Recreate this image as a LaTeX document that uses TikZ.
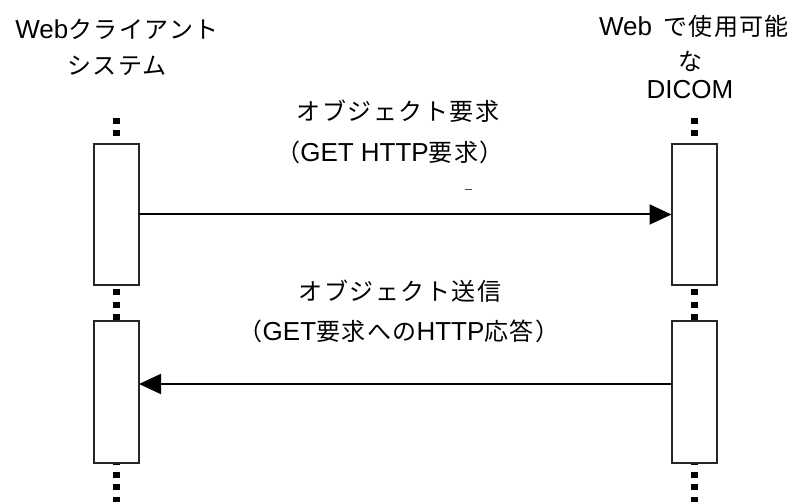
\documentclass[tikz,border=0pt]{standalone}
\usepackage{fontspec}
\setmainfont{Liberation Sans}
\newfontfamily\cjk[LetterSpace=6]{Noto Sans CJK JP}
\newcommand\jp[1]{{\fontsize{24}{28}\cjk #1}}
\usetikzlibrary{arrows.meta}
\tikzset{
  lifebox/.style={draw=black!85, line width=2pt, fill=white, minimum width=45pt, inner sep=0pt, outer sep=0pt},
  lifedash/.style={line width=7pt, dash pattern=on 6pt off 6.5pt},
  msg/.style={line width=2pt, -{Triangle[length=22pt,width=20pt]}},
  txt/.style={inner sep=0pt, font=\fontsize{26}{30}\selectfont},
}
\begin{document}
\begin{tikzpicture}[x=1pt,y=-1pt]
\useasboundingbox (0,0) rectangle (798,502);
% header labels
\node[txt] (lh1) at (117,29) {Web\jp{クライアント}};
\node[txt] (lh2) at (117,66) {\jp{システム}};
\node[txt] (rh1) at (694,26) {Web\hspace{11pt}\jp{で使用可能}};
\node[txt] (rh2) at (690,61) {\jp{な}};
\node[txt] (rh3) at (690,90) {DICOM};
% message labels
\node[txt] (m1a) at (398,111) {\jp{オブジェクト要求}};
\node[txt] (m1b) at (390,152) {\jp{（}GET HTTP\jp{要求）}};
\node[txt] (m2a) at (400,291) {\jp{オブジェクト送信}};
\node[txt] (m2b) at (399,331) {\jp{（}GET\jp{要求への}HTTP\jp{応答）}};
% lifeline coordinates
\coordinate (ltop) at (116.5,118);
\coordinate (lbot) at (116.5,502);
\coordinate (rtop) at (694,118);
\coordinate (rbot) at (694,502);
% activation box positions
\path (116.5,214.5) node[minimum height=141pt, minimum width=45pt, inner sep=0pt] (lb1) {};
\path (116.5,392) node[minimum height=142pt, minimum width=45pt, inner sep=0pt] (lb2) {};
\path (694,214.5) node[minimum height=141pt, minimum width=45pt, inner sep=0pt] (rb1) {};
\path (694,392) node[minimum height=142pt, minimum width=45pt, inner sep=0pt] (rb2) {};
% dotted lifelines
\draw[lifedash] (ltop) -- (lb1.north);
\draw[lifedash] ([yshift=-4pt]lb1.south) -- (lb2.north);
\draw[lifedash] ([yshift=4pt]lb2.south) -- (lbot);
\draw[lifedash] (rtop) -- (rb1.north);
\draw[lifedash] ([yshift=-4pt]rb1.south) -- (rb2.north);
\draw[lifedash] ([yshift=4pt]rb2.south) -- (rbot);
% activation boxes
\node[lifebox, minimum height=141pt] (lbox1) at (lb1) {};
\node[lifebox, minimum height=142pt] (lbox2) at (lb2) {};
\node[lifebox, minimum height=141pt] (rbox1) at (rb1) {};
\node[lifebox, minimum height=142pt] (rbox2) at (rb2) {};
% messages
\draw[msg] (lbox1.east) -- (rbox1.west);
\draw[msg] ([yshift=8pt]rbox2.west) -- ([yshift=8pt]lbox2.east);
% small tick
\coordinate (tick) at (465,189.5);
\draw[black!70, line width=1pt] (tick) -- ++(7,0);
\end{tikzpicture}
\end{document}
